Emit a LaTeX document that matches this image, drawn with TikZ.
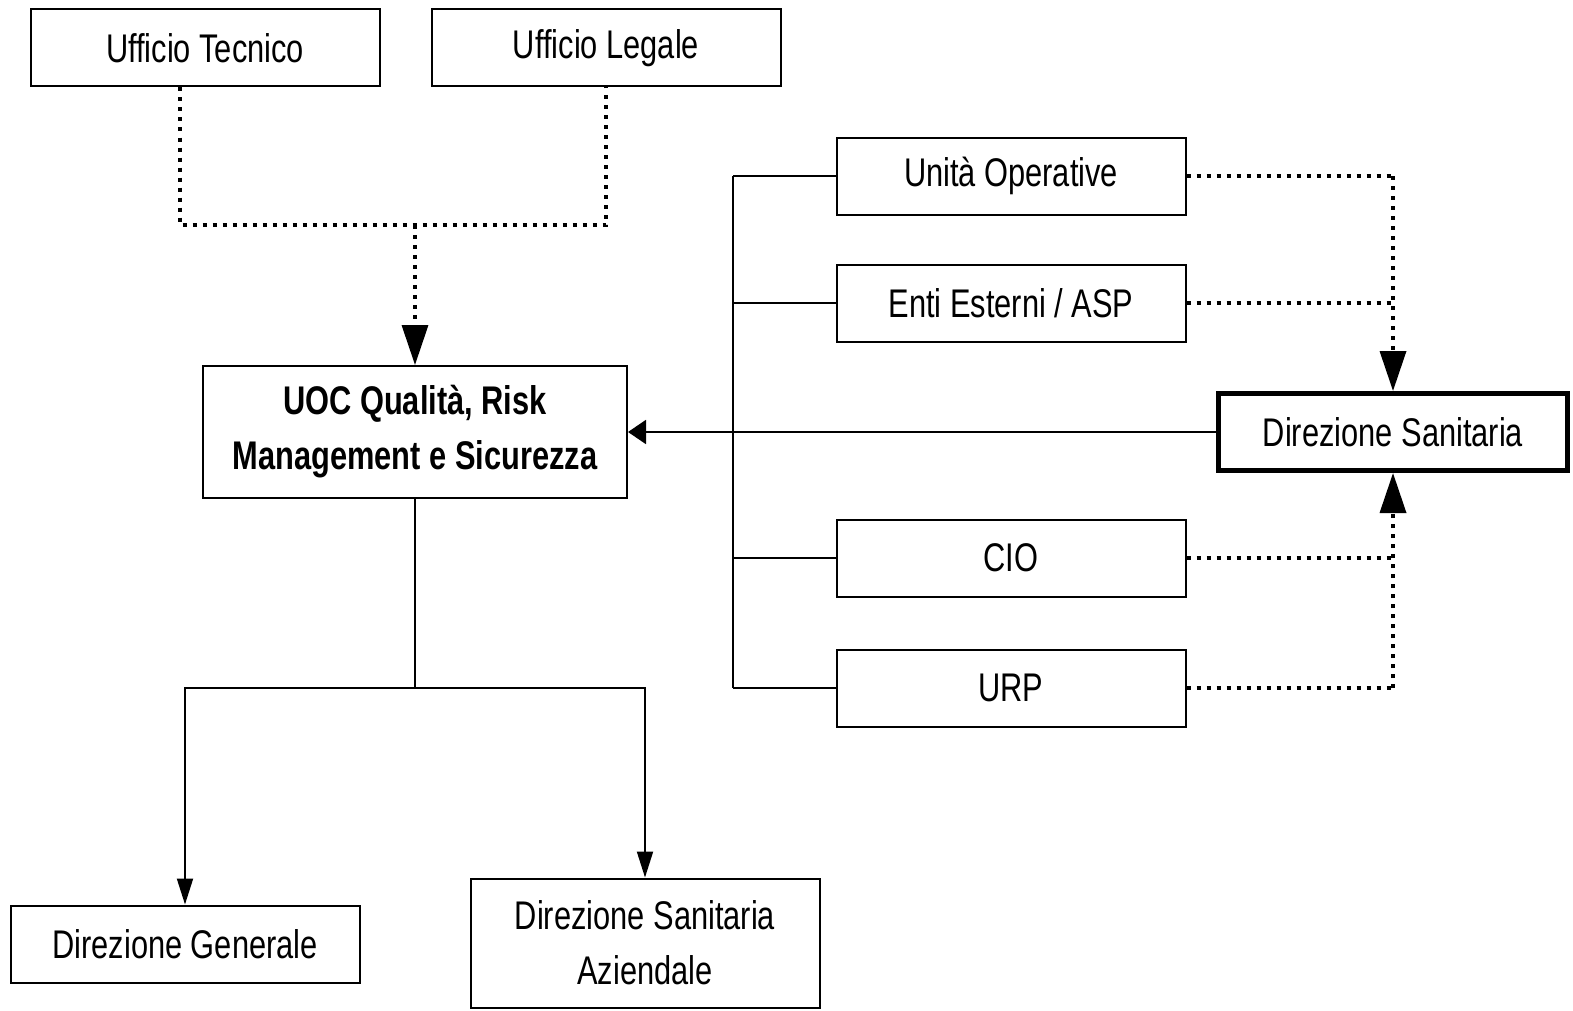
\documentclass[tikz,border=0pt]{standalone}
\usepackage{fontspec}
\setmainfont{Liberation Sans}[FakeStretch=0.77]
\usetikzlibrary{arrows.meta}

\tikzstyle{office}=[draw,line width=1pt,minimum width=174.5pt,minimum height=38.5pt,inner sep=0pt,align=center,font=\fontsize{20}{27.5}\selectfont]
\tikzstyle{main office}=[office,line width=2.5pt]
\tikzstyle{link}=[draw,line width=1pt]
\tikzstyle{dot link}=[draw,line width=1.75pt,dash pattern=on 2pt off 3pt]
\tikzstyle{big tip}=[-{Triangle[width=13pt,length=20pt]}]
\tikzstyle{small tip}=[-{Triangle[width=8pt,length=13pt]}]

\begin{document}
\begin{tikzpicture}[x=0.5pt,y=-0.5pt]
  \useasboundingbox (0,0) rectangle (1573,1011);

  % The offices
  \foreach \pos/\name/\text in {{(205,48)/uffTec/Ufficio Tecnico}, {(606,48)/uffLeg/Ufficio Legale},
      {(1011,176)/unita/Unità Operative}, {(1011,303)/enti/{Enti Esterni / ASP}},
      {(1011,558)/cio/CIO}, {(1011,688)/urp/URP}, {(185,944)/dirGen/Direzione Generale}} {
    \node[office] (\name) at \pos {\text};
  }
  \node[office,minimum width=212pt,minimum height=66pt,font=\fontsize{20}{27.5}\selectfont\bfseries] (uoc) at (415,432) {UOC Qualità, Risk\\Management e Sicurezza};
  \node[main office] (dirSan) at (1393,432) {Direzione Sanitaria};
  \node[office,minimum height=64.5pt] (dirSanAz) at (645,943) {Direzione Sanitaria\\Aziendale};

  % Junction points
  \coordinate (join) at (415,225);
  \coordinate (rail) at (733,0);
  \coordinate (split) at (415,688);

  % Offices feeding the UOC
  \path[dot link] ([xshift=-12.5pt]uffTec.south) |- (join) -| (uffLeg.south);
  \path[dot link,big tip] (join) -- (uoc.north);
  \path[link,-{Triangle[width=12pt,length=9pt]}] (dirSan.west) -- (uoc.east);

  % Units on the right
  \path[link] (unita.west -| rail) -- (urp.west -| rail);
  \foreach \name in {unita, enti, cio, urp} {
    \path[link] (\name.west) -- (\name.west -| rail);
    \path[dot link] (\name.east) -- (\name.east -| dirSan);
  }
  \path[dot link,big tip] (unita.east -| dirSan) -- (dirSan.north);
  \path[dot link,big tip] (urp.east -| dirSan) -- (dirSan.south);

  % Reports from the UOC
  \path[link] (uoc.south) -- (split);
  \path[link,small tip] (split) -| (dirGen.north);
  \path[link,small tip] (split) -| (dirSanAz.north);
\end{tikzpicture}
\end{document}
